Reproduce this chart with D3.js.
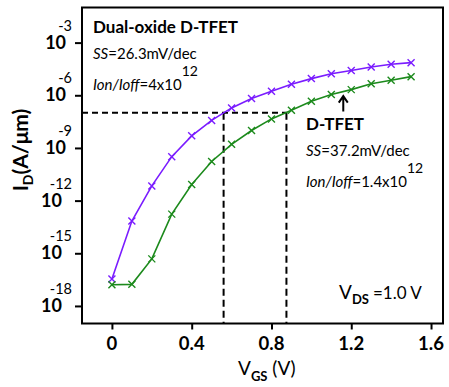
<!DOCTYPE html>
<html>
<head>
<meta charset="utf-8">
<script src="https://cdn.jsdelivr.net/npm/d3@7"></script>
<style>
    body { margin: 0; background: #fff; }
    svg text { font-family: Lato, "Open Sans", sans-serif; fill: #000; }
</style>
</head>
<body>
<div id="chart"></div>
<script>
// gate voltage sweep (V)
const vgs = [0, 0.1, 0.2, 0.3, 0.4, 0.5, 0.6, 0.7, 0.8, 0.9, 1.0, 1.1, 1.2, 1.3, 1.4, 1.5];
// drain current (A/um), dual-oxide D-TFET
const idDualOxide = [3.4e-17, 6.8e-14, 6.9e-12, 3.2e-10, 4.9e-9, 3.7e-8, 1.9e-7, 6.5e-7,
    1.7e-6, 4.3e-6, 8.9e-6, 1.7e-5, 2.6e-5, 4.1e-5, 5.8e-5, 7.2e-5];
// drain current (A/um), D-TFET
const idSingle = [1.6e-17, 1.7e-17, 4.8e-16, 1.7e-13, 8.3e-12, 1.7e-10, 1.6e-9, 9.8e-9,
    4.5e-8, 1.4e-7, 4.6e-7, 1.1e-6, 2.1e-6, 4.5e-6, 7.2e-6, 1.15e-5];

const xTicks = [0, 0.4, 0.8, 1.2, 1.6];
const yTickExps = [-3, -6, -9, -12, -15, -18];

// threshold guides
const iThreshold = 1e-7;
const vOnDual = 0.56;
const vOnSingle = 0.875;

// arrow pointing at the D-TFET curve
const arrowV = 1.16;
const arrowTip = 9e-7;
const arrowTail = 1.2e-7;

const width = 449;
const height = 387;
const frame = {left: 82, top: 7.5, right: 443, bottom: 323.5};

const purple = '#7a1cff';
const green = '#1c8a1c';

let svg = d3.select('#chart')
    .append('svg')
    .attr('width', width)
    .attr('height', height);

let xs = d3.scaleLinear()
    .domain([-0.15, 1.66])
    .range([frame.left, frame.right]);
let ys = d3.scaleLog()
    .domain([1e-19, 1e-1])
    .range([frame.bottom, frame.top]);

// axes (ticks only, frame drawn separately)
let xAxis = svg.append('g')
    .attr('transform', 'translate(0,' + frame.bottom + ')')
    .call(d3.axisBottom(xs).tickValues(xTicks).tickSize(6).tickSizeOuter(0).tickFormat(''));
let yAxis = svg.append('g')
    .attr('transform', 'translate(' + frame.left + ',0)')
    .call(d3.axisLeft(ys).tickValues(yTickExps.map(e => Math.pow(10, e))).tickSize(7).tickSizeOuter(0).tickFormat(''));
[xAxis, yAxis].forEach(a => {
    a.select('.domain').remove();
    a.selectAll('.tick line').attr('stroke', '#000').attr('stroke-width', 2);
});

svg.append('rect')
    .attr('x', frame.left)
    .attr('y', frame.top)
    .attr('width', frame.right - frame.left)
    .attr('height', frame.bottom - frame.top)
    .style('fill', 'none')
    .style('stroke', '#000')
    .style('stroke-width', 2);

// x tick labels
svg.selectAll('.xlabel')
    .data(xTicks)
    .enter()
    .append('text')
    .attr('x', d => xs(d))
    .attr('y', 350)
    .style('text-anchor', 'middle')
    .style('font-size', '18.5px')
    .style('font-weight', 'bold')
    .text(d => d === 0 ? '0' : d3.format('.1f')(d));

// y tick labels: 10 with superscript exponent
yTickExps.forEach(e => {
    let ty = ys(Math.pow(10, e));
    let sup = svg.append('text')
        .attr('x', 72)
        .attr('y', ty - 12)
        .style('text-anchor', 'end')
        .style('font-size', '14.5px')
        .text(e);
    let sw = sup.node().getComputedTextLength();
    svg.append('text')
        .attr('x', 72 - sw / 2 - 9.5)
        .attr('y', ty + 6)
        .style('text-anchor', 'middle')
        .style('font-size', '18px')
        .style('font-weight', 'bold')
        .text('10');
});

// dashed guides
let guides = svg.append('g')
    .style('stroke', '#000')
    .style('stroke-width', 2)
    .style('fill', 'none');
guides.append('line')
    .attr('x1', frame.left).attr('x2', xs(vOnSingle))
    .attr('y1', ys(iThreshold)).attr('y2', ys(iThreshold))
    .style('stroke-dasharray', '6,4');
[vOnDual, vOnSingle].forEach(v => {
    guides.append('line')
        .attr('x1', xs(v)).attr('x2', xs(v))
        .attr('y1', ys(iThreshold)).attr('y2', frame.bottom)
        .style('stroke-dasharray', '7,4');
});

// curves
const lineGenerator = d3.line()
    .x(d => xs(d[0]))
    .y(d => ys(d[1]));

[[idDualOxide, purple], [idSingle, green]].forEach(([vals, color]) => {
    let pts = vgs.map((v, i) => [v, vals[i]]);
    svg.append('path')
        .datum(pts)
        .attr('d', lineGenerator)
        .style('fill', 'none')
        .style('stroke', color)
        .style('stroke-width', 1.6);
    svg.selectAll(null)
        .data(pts)
        .enter()
        .append('path')
        .attr('transform', d => 'translate(' + xs(d[0]) + ',' + ys(d[1]) + ')')
        .attr('d', 'M-3.5,-3.5L3.5,3.5M-3.5,3.5L3.5,-3.5')
        .style('stroke', color)
        .style('stroke-width', 1.4);
});

// arrow
let ax = xs(arrowV);
svg.append('path')
    .attr('d', 'M' + ax + ',' + ys(arrowTail) + 'L' + ax + ',' + ys(arrowTip) +
        'M' + (ax - 4.5) + ',' + (ys(arrowTip) + 6.5) + 'L' + ax + ',' + ys(arrowTip) + 'L' + (ax + 4.5) + ',' + (ys(arrowTip) + 6.5))
    .style('fill', 'none')
    .style('stroke', '#000')
    .style('stroke-width', 2);

// annotations
function addBlock(x, y0, title, ss, ratio) {
    svg.append('text')
        .attr('x', x).attr('y', y0)
        .style('font-size', '17px')
        .style('font-weight', 'bold')
        .text(title);
    let t2 = svg.append('text')
        .attr('x', x).attr('y', y0 + 26)
        .style('font-size', '15px');
    t2.append('tspan').style('font-style', 'italic').text('SS');
    t2.append('tspan').text('=' + ss + 'mV/dec');
    let t3 = svg.append('text')
        .attr('x', x).attr('y', y0 + 57)
        .style('font-size', '15px');
    t3.append('tspan').style('font-style', 'italic').text('Ion/Ioff');
    t3.append('tspan').text('=' + ratio + 'x10');
    t3.append('tspan').attr('dy', -14).attr('dx', 0).style('font-size', '14px').text('12');
}
addBlock(93, 33.3, 'Dual-oxide D-TFET', '26.3', '4');
addBlock(306, 130, 'D-TFET', '37.2', '1.4');

let vds = svg.append('text')
    .attr('x', 339)
    .attr('y', 299)
    .style('font-size', '19px');
vds.append('tspan').text('V');
vds.append('tspan').attr('dy', 5).style('font-size', '13px').style('font-weight', 'bold').text('DS');
vds.append('tspan').attr('dy', -5).attr('dx', 4).style('font-size', '17px').text('=1.0 V');

// axis titles
let xt = svg.append('text')
    .attr('x', 238)
    .attr('y', 375)
    .style('font-size', '19px');
xt.append('tspan').text('V');
xt.append('tspan').attr('dy', 6).style('font-size', '13px').style('font-weight', 'bold').text('GS');
xt.append('tspan').attr('dy', -6).text(' (V)');

let yt = svg.append('text')
    .attr('transform', 'translate(28,150) rotate(-90)')
    .style('text-anchor', 'middle')
    .style('font-size', '21px')
    .style('font-weight', 'bold');
yt.append('tspan').text('I');
yt.append('tspan').attr('dy', 5).style('font-size', '14px').text('D');
yt.append('tspan').attr('dy', -5).text('(A/\u03bcm)');
</script>
</body>
</html>
